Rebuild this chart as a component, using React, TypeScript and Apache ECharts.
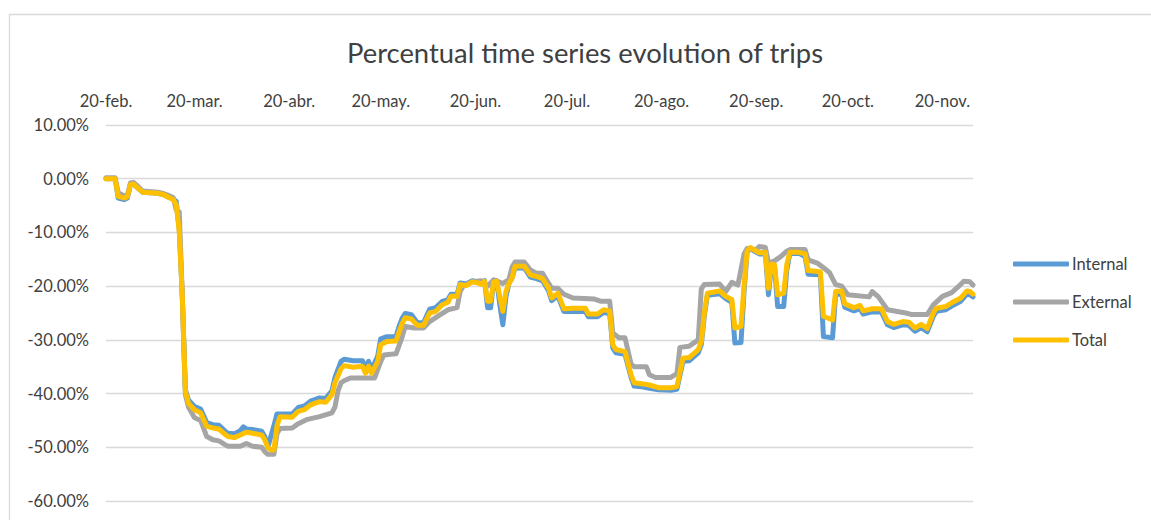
import React, { useEffect, useRef } from "react";
import * as echarts from "echarts";

// Daily axis from 20 Feb 2020 to 30 Nov 2020; values are [day index, % change].
const START = { year: 2020, month: 1, day: 20 };
const DAY_COUNT = 285;
const MONTHS_ES = ["ene", "feb", "mar", "abr", "may", "jun", "jul", "ago", "sep", "oct", "nov", "dic"];

const seriesNames = ["Internal", "External", "Total"];
const seriesColors = ["#5B9BD5", "#A5A5A5", "#FFC000"];

const yTicks = { min: -60, max: 10, step: 10 };

const internalPoints: [number, number][] = [
  [0, 0.0], [3, 0.0], [4, -3.6], [6, -3.9], [7, -3.6], [8, -1.2], [9, -1.0], [10, -1.5], [12, -2.5],
  [17, -2.7], [19, -3.0], [20, -3.3], [22, -3.8], [23, -4.2], [24, -9.5], [25, -22.0], [26, -39.3],
  [27, -41.2], [29, -42.4], [31, -42.9], [33, -45.4], [35, -45.8], [37, -45.9], [39, -47.0], [40, -47.4],
  [42, -47.5], [44, -46.9], [45, -46.2], [46, -46.6], [48, -46.7], [51, -47.0], [52, -48.0], [53, -50.0],
  [54, -48.0], [55, -46.0], [56, -43.8], [61, -43.8], [63, -42.6], [65, -42.3], [67, -41.4], [70, -40.8],
  [72, -40.9], [74, -39.5], [75, -37.0], [77, -34.0], [78, -33.6], [81, -33.9], [84, -33.9], [85, -35.2],
  [86, -34.0], [87, -35.5], [89, -33.0], [90, -29.8], [92, -29.4], [95, -29.4], [96, -27.5], [97, -26.0],
  [98, -25.1], [100, -25.3], [102, -26.8], [104, -26.8], [106, -24.3], [108, -24.0], [110, -22.9],
  [112, -22.5], [113, -21.5], [115, -21.5], [116, -19.4], [118, -19.6], [120, -19.0], [122, -19.2],
  [123, -19.5], [124, -19.0], [125, -24.0], [126, -24.0], [127, -19.0], [128, -19.0], [129, -23.5],
  [130, -27.2], [131, -22.0], [132, -19.5], [133, -18.5], [134, -16.6], [137, -16.6], [139, -18.3],
  [141, -18.6], [143, -19.0], [145, -20.9], [146, -22.7], [148, -21.8], [150, -24.7], [153, -24.7],
  [157, -24.7], [158, -25.7], [161, -25.7], [163, -24.9], [165, -25.1], [166, -31.5], [167, -32.4],
  [170, -32.7], [172, -37.0], [173, -38.6], [176, -38.8], [178, -39.0], [181, -39.3], [185, -39.4],
  [187, -39.2], [189, -34.0], [191, -33.9], [194, -32.4], [195, -30.9], [196, -25.5], [197, -21.7],
  [201, -21.4], [203, -22.3], [205, -23.0], [206, -30.6], [208, -30.5], [209, -21.0], [210, -13.7],
  [211, -13.0], [214, -14.0], [216, -14.0], [217, -21.6], [218, -16.2], [219, -16.3], [220, -23.8],
  [222, -23.8], [223, -17.0], [224, -13.9], [227, -13.9], [229, -14.5], [230, -17.8], [234, -17.9],
  [235, -29.4], [238, -29.6], [239, -21.5], [241, -21.5], [242, -23.9], [245, -24.6], [247, -24.2],
  [248, -25.2], [251, -24.8], [254, -24.8], [256, -27.2], [258, -27.7], [261, -27.2], [263, -27.3],
  [265, -28.4], [267, -27.7], [269, -28.5], [271, -25.6], [272, -24.7], [275, -24.4], [277, -23.7],
  [280, -22.8], [282, -21.5], [283, -21.6], [284, -22.0],
];

const externalPoints: [number, number][] = [
  [0, 0.2], [3, 0.2], [4, -2.6], [6, -3.2], [7, -3.0], [8, -0.8], [9, -0.7], [10, -1.2], [12, -2.3],
  [17, -2.5], [19, -2.8], [20, -3.0], [22, -3.5], [23, -5.8], [24, -6.2], [25, -22.0], [26, -40.2],
  [27, -42.5], [29, -44.5], [31, -45.0], [33, -48.0], [35, -48.6], [37, -48.8], [39, -49.5], [40, -49.8],
  [44, -49.8], [46, -49.3], [48, -49.8], [51, -50.0], [52, -50.8], [53, -51.3], [55, -51.3], [56, -47.5],
  [57, -46.5], [61, -46.4], [63, -45.6], [66, -44.8], [70, -44.3], [74, -43.6], [75, -42.5], [76, -39.5],
  [77, -38.0], [78, -37.6], [80, -37.1], [88, -37.1], [90, -34.0], [91, -32.8], [95, -32.6], [97, -29.5],
  [98, -27.5], [101, -27.8], [104, -27.8], [106, -26.6], [109, -25.5], [112, -24.4], [115, -24.0],
  [116, -21.0], [117, -20.0], [120, -19.2], [123, -19.0], [125, -20.0], [127, -18.8], [130, -19.5],
  [132, -18.8], [133, -16.5], [134, -15.5], [137, -15.5], [139, -17.0], [141, -17.6], [143, -17.6],
  [145, -19.5], [146, -20.4], [148, -20.4], [150, -21.5], [153, -22.2], [160, -22.4], [162, -22.8],
  [165, -22.8], [166, -28.7], [168, -29.6], [170, -29.6], [172, -34.5], [173, -35.0], [177, -35.0],
  [178, -36.5], [180, -37.0], [185, -37.0], [187, -36.3], [188, -31.4], [191, -31.2], [194, -30.0],
  [195, -20.5], [196, -19.7], [201, -19.6], [203, -21.0], [205, -19.3], [207, -19.8], [209, -14.0],
  [210, -13.0], [213, -13.2], [214, -12.6], [216, -12.8], [217, -15.7], [219, -15.3], [221, -14.5],
  [223, -13.5], [224, -13.2], [229, -13.2], [230, -15.1], [233, -15.7], [236, -17.0], [237, -17.5],
  [239, -19.7], [241, -20.0], [243, -21.6], [250, -22.0], [251, -21.0], [253, -22.0], [256, -24.4],
  [262, -25.0], [264, -25.3], [269, -25.3], [271, -23.5], [274, -21.9], [277, -21.2], [279, -20.2],
  [281, -19.1], [283, -19.2], [284, -19.8],
];

const totalPoints: [number, number][] = [
  [0, 0.0], [3, 0.0], [4, -3.3], [6, -3.6], [7, -3.4], [8, -1.1], [9, -1.0], [10, -1.5], [12, -2.5],
  [17, -2.7], [19, -3.0], [20, -3.3], [22, -3.9], [23, -4.8], [24, -9.8], [25, -22.0], [26, -39.6],
  [27, -41.8], [29, -43.0], [31, -43.6], [33, -46.1], [35, -46.4], [37, -46.6], [39, -47.6], [40, -48.0],
  [42, -48.2], [44, -47.7], [46, -47.2], [48, -47.4], [51, -47.7], [52, -48.6], [53, -50.0], [54, -50.5],
  [55, -50.5], [56, -46.0], [57, -44.3], [61, -44.4], [63, -43.3], [65, -43.0], [67, -42.1], [70, -41.5],
  [72, -41.6], [74, -40.2], [75, -38.0], [77, -35.4], [78, -34.8], [81, -35.1], [84, -34.9], [85, -36.2],
  [86, -34.9], [87, -36.2], [89, -34.0], [90, -30.9], [92, -30.3], [95, -30.2], [96, -28.5], [97, -27.0],
  [98, -25.9], [100, -26.1], [102, -27.3], [104, -27.3], [106, -25.0], [108, -24.7], [110, -23.5],
  [112, -23.0], [113, -21.9], [115, -21.9], [116, -19.7], [118, -19.9], [120, -19.2], [122, -19.4],
  [123, -19.7], [124, -19.1], [125, -22.8], [126, -22.8], [127, -19.2], [128, -19.1], [129, -22.0],
  [130, -24.7], [131, -21.0], [132, -19.5], [133, -18.5], [134, -16.3], [137, -16.3], [139, -17.9],
  [141, -18.2], [143, -18.6], [145, -20.4], [146, -22.2], [148, -21.3], [150, -24.2], [153, -24.1],
  [157, -24.1], [158, -25.2], [161, -25.2], [163, -24.4], [165, -24.6], [166, -30.9], [167, -31.8],
  [170, -32.2], [172, -36.5], [173, -38.0], [176, -38.2], [178, -38.4], [181, -38.9], [185, -38.9],
  [187, -38.7], [189, -33.4], [191, -33.3], [194, -31.8], [195, -30.3], [196, -25.0], [197, -21.3],
  [201, -20.9], [203, -21.9], [205, -22.5], [206, -27.8], [208, -27.5], [209, -20.0], [210, -13.5],
  [211, -12.8], [214, -13.8], [216, -13.7], [217, -20.4], [218, -15.9], [219, -16.0], [220, -21.6],
  [222, -21.3], [223, -16.0], [224, -13.7], [227, -13.7], [229, -14.0], [230, -17.1], [234, -17.3],
  [235, -25.6], [238, -26.3], [239, -21.0], [241, -20.9], [242, -23.3], [245, -24.0], [247, -23.6],
  [248, -24.6], [251, -24.2], [254, -24.2], [256, -26.6], [258, -27.1], [261, -26.6], [263, -26.7],
  [265, -27.8], [267, -27.1], [269, -27.9], [271, -25.0], [272, -24.1], [275, -23.8], [277, -23.1],
  [280, -22.2], [282, -20.9], [283, -21.0], [284, -21.5],
];

const FONT = "Lato, 'Noto Sans', sans-serif";
const TEXT_COLOR = "#404040";
const LABEL_SIZE = 16.5;

function buildDayLabels(): { labels: string[]; isTick: boolean[] } {
  const labels: string[] = [];
  const isTick: boolean[] = [];
  for (let i = 0; i < DAY_COUNT; i++) {
    const d = new Date(Date.UTC(START.year, START.month, START.day + i));
    labels.push(`${d.getUTCDate()}-${MONTHS_ES[d.getUTCMonth()]}.`);
    isTick.push(d.getUTCDate() === 20);
  }
  return { labels, isTick };
}

export default function App() {
  const ref = useRef<HTMLDivElement>(null);

  useEffect(() => {
    if (!ref.current) return;
    const chart = echarts.init(ref.current, undefined, { renderer: "svg" });
    const { labels, isTick } = buildDayLabels();
    const pointSets = [internalPoints, externalPoints, totalPoints];

    chart.setOption({
      animation: false,
      backgroundColor: "#ffffff",
      textStyle: { fontFamily: FONT },
      title: {
        text: "Percentual time series evolution of trips",
        left: 580,
        textAlign: "center",
        top: 34,
        textStyle: { fontFamily: FONT, fontSize: 27.4, fontWeight: "normal", color: TEXT_COLOR },
      },
      graphic: [
        {
          type: "rect",
          shape: { x: 9.5, y: 14.5, width: 1300, height: 700 },
          style: { fill: "none", stroke: "#D9D9D9", lineWidth: 1.3 },
          silent: true,
          z: -10,
        },
      ],
      legend: {
        orient: "vertical",
        left: 1013,
        top: 254,
        padding: 0,
        itemWidth: 56,
        itemHeight: 5,
        itemGap: 18,
        icon: "roundRect",
        data: seriesNames,
        textStyle: {
          fontFamily: FONT,
          fontSize: LABEL_SIZE,
          color: TEXT_COLOR,
          lineHeight: 20,
          padding: [0, 0, 0, -2],
        },
      },
      grid: { left: 106, right: 178, top: 125, bottom: 19, containLabel: false },
      xAxis: {
        type: "category",
        position: "top",
        data: labels,
        boundaryGap: false,
        axisLine: { show: false },
        axisTick: { show: false },
        splitLine: { show: false },
        axisLabel: {
          interval: (index: number) => isTick[index],
          margin: 16,
          fontFamily: FONT,
          fontSize: LABEL_SIZE,
          color: TEXT_COLOR,
        },
      },
      yAxis: {
        type: "value",
        min: yTicks.min,
        max: yTicks.max,
        interval: yTicks.step,
        axisLine: { show: false },
        axisTick: { show: false },
        splitLine: { lineStyle: { color: "#D9D9D9", width: 1.3 } },
        axisLabel: {
          margin: 17,
          fontFamily: FONT,
          fontSize: LABEL_SIZE,
          color: TEXT_COLOR,
          formatter: (v: number) => `${v.toFixed(2)}%`,
        },
      },
      series: seriesNames.map((name, i) => ({
        name,
        type: "line",
        data: pointSets[i],
        symbol: "none",
        smooth: false,
        color: seriesColors[i],
        lineStyle: { width: 5, color: seriesColors[i], cap: "round", join: "round" },
        z: 2 + i,
      })),
    });

    return () => chart.dispose();
  }, []);

  return (
    <div
      ref={ref}
      style={{ position: "absolute", left: 0, top: 0, width: 1151, height: 520, background: "#fff" }}
    />
  );
}
